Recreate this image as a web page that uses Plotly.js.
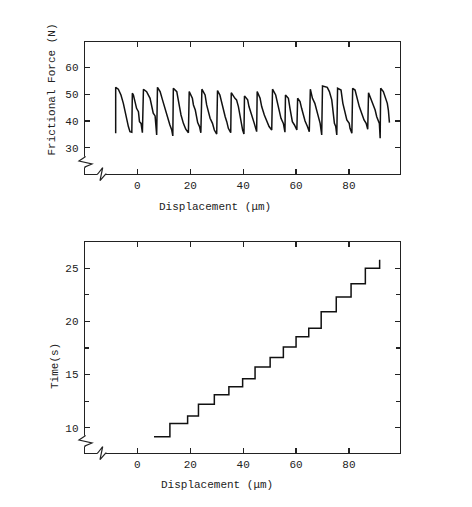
<!DOCTYPE html>
<html>
<head>
<meta charset="utf-8">
<script src="https://cdn.plot.ly/plotly-3.0.1.min.js"></script>
<style>html,body{margin:0;padding:0;background:#fff;}#chart{width:472px;height:507px;}</style>
</head>
<body>
<div id="chart"></div>
<script>
// ---- data ----
const forceDisp = [
 -8.2,-8.2,-7.2,-6.2,-5.3,-4.6,-4.0,-3.4,-2.8,-2.1,
 -1.9,-1.5,-0.9,-0.3,0.4,0.8,1.4,1.9,
 2.3,3.5,4.8,5.4,6.0,6.7,7.0,7.3,
 7.6,8.6,9.5,10.2,11.1,11.7,12.3,13.0,13.4,
 13.6,14.9,15.8,16.5,17.4,18.3,19.3,
 19.6,20.8,21.2,21.9,22.5,22.8,23.5,24.0,
 24.4,25.6,26.2,26.8,27.5,28.4,29.1,30.0,
 30.3,31.2,31.9,32.5,33.2,33.8,34.4,35.3,
 35.5,36.9,37.5,38.2,38.6,39.2,39.8,40.3,
 40.5,41.7,42.2,43.0,43.6,44.2,45.1,
 45.3,46.4,47.0,48.0,48.9,49.8,50.8,
 51.1,52.3,53.1,53.6,54.3,55.2,55.8,
 56.0,57.1,57.7,58.1,58.6,59.4,60.3,
 60.6,61.5,62.1,62.8,63.4,64.3,65.0,
 65.4,66.2,67.1,67.7,68.3,69.1,69.7,
 70.0,71.8,72.6,73.5,74.1,74.5,75.0,75.4,
 75.7,77.0,77.7,78.3,79.2,80.1,80.4,81.1,
 81.4,82.3,83.2,83.9,84.8,85.7,86.5,87.1,
 87.4,88.2,89.0,89.9,90.5,91.1,91.5,91.8,
 92.0,93.0,94.0,94.5,94.9,95.3
];
const frictionalForce = [
 35.4,52.6,51.9,49.75,46.6,42.9,41.0,37.9,36.0,35.8,
 50.4,49.75,47.25,44.75,43.5,39.75,39.1,35.6,
 51.9,51.0,48.5,46.0,42.9,41.9,39.1,34.75,
 52.6,51.0,47.9,45.4,42.25,40.4,38.5,36.6,34.4,
 52.25,51.0,46.0,42.25,39.1,36.9,35.6,
 51.0,48.5,46.0,44.1,41.6,39.4,37.9,35.6,
 51.9,49.75,46.0,43.5,41.0,39.1,36.6,35.1,
 51.4,49.75,46.6,44.1,41.6,39.75,37.25,35.6,
 50.6,48.5,47.9,45.4,42.9,39.1,36.6,35.1,
 49.4,47.9,45.4,42.9,40.4,39.1,36.0,
 51.0,48.5,45.4,42.25,39.75,37.9,36.6,
 51.9,49.75,46.0,43.5,41.0,39.1,35.8,
 49.75,48.5,44.75,41.6,39.75,38.5,36.6,
 48.5,47.25,44.75,41.5,40.0,37.9,36.0,
 51.9,48.5,46.6,44.1,41.6,39.1,34.75,
 53.1,52.6,51.0,47.9,42.9,39.1,37.9,34.75,
 52.25,51.6,46.6,44.1,40.4,39.1,37.25,35.4,
 52.25,51.6,47.9,45.4,42.9,40.4,39.1,36.9,
 50.6,48.5,46.6,44.1,41.6,39.75,39.1,33.5,
 52.25,51.0,47.9,46.6,44.1,39.4
];
const stepDisp = [6.3,12.3,19.0,23.1,29.1,34.6,39.8,44.5,50.2,55.2,60.0,64.8,69.5,75.2,80.8,86.2,91.6];
const stepTime = [9.15,10.4,11.1,12.2,13.1,13.85,14.6,15.7,16.6,17.6,18.55,19.35,20.9,22.3,23.55,25.0,25.8];

const xTitle = 'Displacement (\u03bcm)';
const yTitleTop = 'Frictional Force (N)';
const yTitleBottom = 'Time(s)';

// ---- layout geometry ----
const W = 472, H = 507, L = 85, R = 72, T = 42, B = 54;
const plotW = W - L - R, plotH = H - T - B;
const px = X => (X - L) / plotW;
const py = Y => (H - B - Y) / plotH;
const ink = '#222';
const FONT = 'Liberation Mono, Courier New, monospace';

const axisBase = {
  showline: true, mirror: 'ticks', linecolor: ink, linewidth: 1.3,
  ticks: 'inside', ticklen: 5, tickwidth: 1.3, tickcolor: ink,
  showgrid: false, zeroline: false, ticklabelstandoff: 3,
  tickfont: {family: FONT, size: 11, color: ink}
};
const xBase = Object.assign({}, axisBase, {ticklabelstandoff: 0});

// axis-break decorations (pixel geometry converted to paper coords)
function pathFrom(points) {
  return points.map((p, i) => (i ? 'L' : 'M') + px(p[0]).toFixed(5) + ',' + py(p[1]).toFixed(5)).join(' ');
}
function breaks(cornerY) {
  const c = cornerY;
  return [
    {type: 'path', xref: 'paper', yref: 'paper', layer: 'above',
     path: pathFrom([[85, c - 17.5], [85, c - 6.5]]), line: {color: '#fff', width: 4}},
    {type: 'path', xref: 'paper', yref: 'paper', layer: 'above',
     path: pathFrom([[97.5, c], [106, c]]), line: {color: '#fff', width: 4}},
    {type: 'path', xref: 'paper', yref: 'paper', layer: 'above',
     path: pathFrom([[85, c - 18], [85, c - 17], [79, c - 13], [92, c - 10], [85, c - 7], [85, c - 6]]),
     line: {color: ink, width: 1.2}},
    {type: 'path', xref: 'paper', yref: 'paper', layer: 'above',
     path: pathFrom([[97, c], [97.7, c], [102.7, c - 6.3], [100, c + 6.7], [105.7, c], [106.5, c]]),
     line: {color: ink, width: 1.2}}
  ];
}

const data = [
  {x: forceDisp, y: frictionalForce, type: 'scatter', mode: 'lines',
   line: {color: '#111', width: 1.5}, xaxis: 'x', yaxis: 'y', hoverinfo: 'skip'},
  {x: stepDisp, y: stepTime, type: 'scatter', mode: 'lines',
   line: {color: '#111', width: 1.5, shape: 'hv'}, xaxis: 'x2', yaxis: 'y2', hoverinfo: 'skip'}
];

const ann = (text, X, Y, angle) => ({
  text: text, xref: 'paper', yref: 'paper', x: px(X), y: py(Y),
  xanchor: 'center', yanchor: 'middle', showarrow: false, textangle: angle || 0,
  font: {family: FONT, size: 11, color: ink}
});

const layout = {
  width: W, height: H,
  margin: {l: L, r: R, t: T, b: B, pad: 0},
  paper_bgcolor: '#fff', plot_bgcolor: '#fff',
  showlegend: false,
  xaxis: Object.assign({}, xBase, {domain: [0, 1], anchor: 'y', range: [-19.8, 99.3], tick0: 0, dtick: 20}),
  yaxis: Object.assign({}, axisBase, {domain: [py(174), 1], anchor: 'x', range: [20.13, 69.6], tick0: 0, dtick: 10}),
  xaxis2: Object.assign({}, xBase, {domain: [0, 1], anchor: 'y2', range: [-19.8, 99.3], tick0: 0, dtick: 20}),
  yaxis2: Object.assign({}, axisBase, {domain: [0, py(242)], anchor: 'x2', range: [7.62, 27.47], tick0: 0, dtick: 5,
    minor: {dtick: 2.5, ticks: 'inside', ticklen: 4, tickwidth: 1.2, tickcolor: ink}}),
  shapes: breaks(174).concat(breaks(453)),
  annotations: [
    ann(yTitleTop, 51.5, 90, -90),
    ann(xTitle, 215, 207),
    ann(yTitleBottom, 55, 366, -90),
    ann(xTitle, 217, 485)
  ]
};

Plotly.newPlot('chart', data, layout, {staticPlot: true, displayModeBar: false});
</script>
</body>
</html>
